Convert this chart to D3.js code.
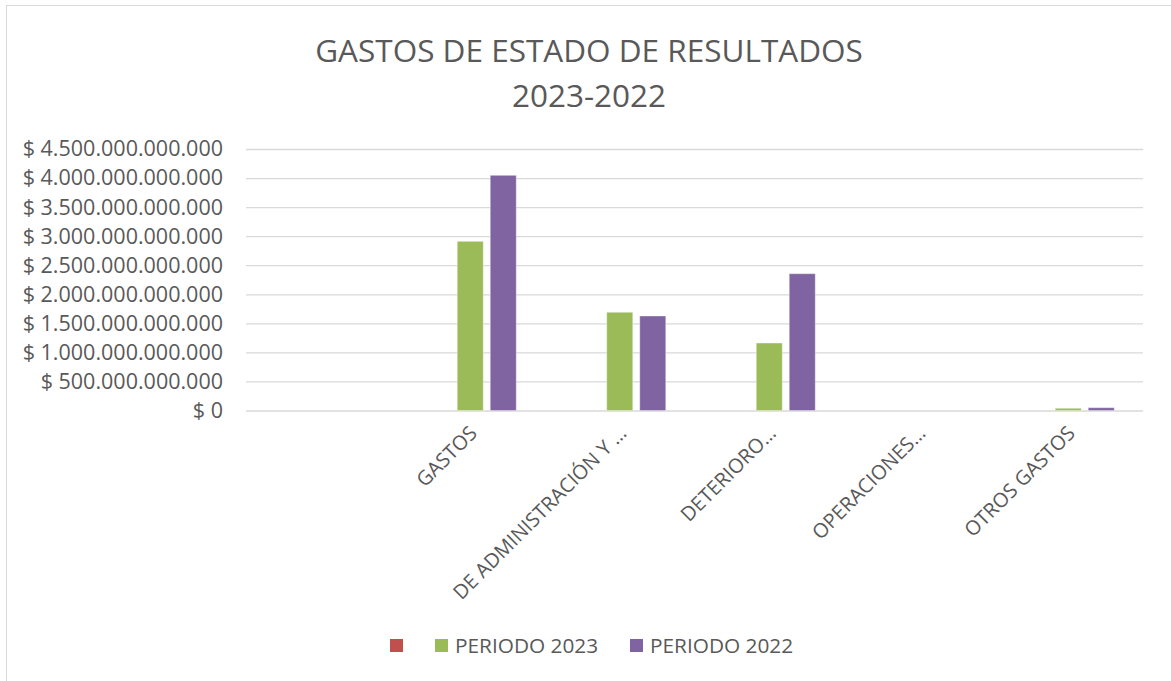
<!DOCTYPE html>
<html>
<head>
<meta charset="utf-8">
<script src="https://cdn.jsdelivr.net/npm/d3@7"></script>
<style>
  body { margin: 0; background: #fff; }
  text { font-family: "Open Sans", sans-serif; fill: #595959; }
</style>
</head>
<body>
<div id="chart"></div>
<script>
// chart values
const categories = ["", "GASTOS", "DE ADMINISTRACIÓN Y …", "DETERIORO…", "OPERACIONES…", "OTROS GASTOS"];
const seriesNames = ["", "PERIODO 2023", "PERIODO 2022"];
const seriesColors = ["#C0504D", "#9BBB59", "#8064A2"];
const blankSeries = [0, 0, 0, 0, 0, 0];
const periodo2023 = [0, 2911e9, 1690e9, 1161e9, 0, 38e9];
const periodo2022 = [0, 4047e9, 1626e9, 2354e9, 0, 48e9];
const yTicks = [0, 5e11, 1e12, 1.5e12, 2e12, 2.5e12, 3e12, 3.5e12, 4e12, 4.5e12];

(function chart() {
  let width = 1171,
      height = 681,
      margin = ({ top: 149, right: 28, bottom: 270.5, left: 246 });

  const svg = d3.select("#chart")
    .append("svg")
    .attr("width", width)
    .attr("height", height);

  // outer chart frame
  svg.append("rect")
    .attr("x", 6.5).attr("y", 5.5)
    .attr("width", width + 10).attr("height", height + 10)
    .attr("fill", "none")
    .attr("stroke", "#d9d9d9");

  const series = [blankSeries, periodo2023, periodo2022];

  let x0 = d3.scaleBand()
    .domain(categories.map((c, i) => i))
    .range([margin.left, width - margin.right]);

  let x1 = d3.scaleBand()
    .domain(seriesNames.map((s, i) => i))
    .range([-46, 46])
    .paddingInner(7 / 33);

  let y = d3.scaleLinear()
    .domain([0, 4.5e12])
    .range([height - margin.bottom, margin.top]);

  const fmt = v => "$ " + d3.format(",.0f")(v).replace(/,/g, ".");

  // gridlines + labels
  const yAxis = svg.append("g")
    .attr("transform", `translate(${margin.left},0)`)
    .call(d3.axisLeft(y).tickValues(yTicks).tickFormat(fmt)
      .tickSize(-(width - margin.left - margin.right)).tickPadding(23));
  yAxis.select(".domain").remove();
  yAxis.selectAll(".tick line").attr("stroke", "#d9d9d9").attr("stroke-width", 1.3);
  yAxis.selectAll(".tick text")
    .attr("font-size", 21.5)
    .attr("fill", "#595959")
    .style("font-family", "'Open Sans', sans-serif");

  // bars
  svg.append("g")
    .selectAll("g")
    .data(categories.map((c, i) => i))
    .join("g")
    .attr("transform", i => `translate(${x0(i) + x0.bandwidth() / 2},0)`)
    .selectAll("rect")
    .data(i => series.map((s, k) => ({ k, v: s[i] })).filter(d => d.v > 0))
    .join("rect")
    .attr("x", d => x1(d.k))
    .attr("width", x1.bandwidth())
    .attr("y", d => y(d.v))
    .attr("height", d => y(0) - y(d.v))
    .attr("fill", d => seriesColors[d.k])
    .attr("stroke", "rgba(255,255,255,0.35)")
    .attr("stroke-width", 1);

  // x labels, rotated
  svg.append("g")
    .selectAll("text")
    .data(categories.map((c, i) => i))
    .join("text")
    .attr("transform", i => `translate(${x0(i) + x0.bandwidth() / 2 + 8},${y(0) + 24}) rotate(-45)`)
    .attr("text-anchor", "end")
    .attr("font-size", 20)
    .text(i => categories[i]);

  // title
  svg.append("text")
    .attr("x", 589).attr("y", 62)
    .attr("text-anchor", "middle")
    .attr("font-size", 31.5)
    .text("GASTOS DE ESTADO DE RESULTADOS");
  svg.append("text")
    .attr("x", 589).attr("y", 107)
    .attr("text-anchor", "middle")
    .attr("font-size", 31.5)
    .text("2023-2022");

  // legend
  const legendX = [390, 435, 630];
  const legend = svg.append("g")
    .selectAll("g")
    .data(seriesNames)
    .join("g")
    .attr("transform", (d, i) => `translate(${legendX[i]},639)`);
  legend.append("rect")
    .attr("width", 13).attr("height", 13)
    .attr("fill", (d, i) => seriesColors[i]);
  legend.append("text")
    .attr("x", 20).attr("y", 13.5)
    .attr("font-size", 20.8)
    .text(d => d);
})();
</script>
</body>
</html>
